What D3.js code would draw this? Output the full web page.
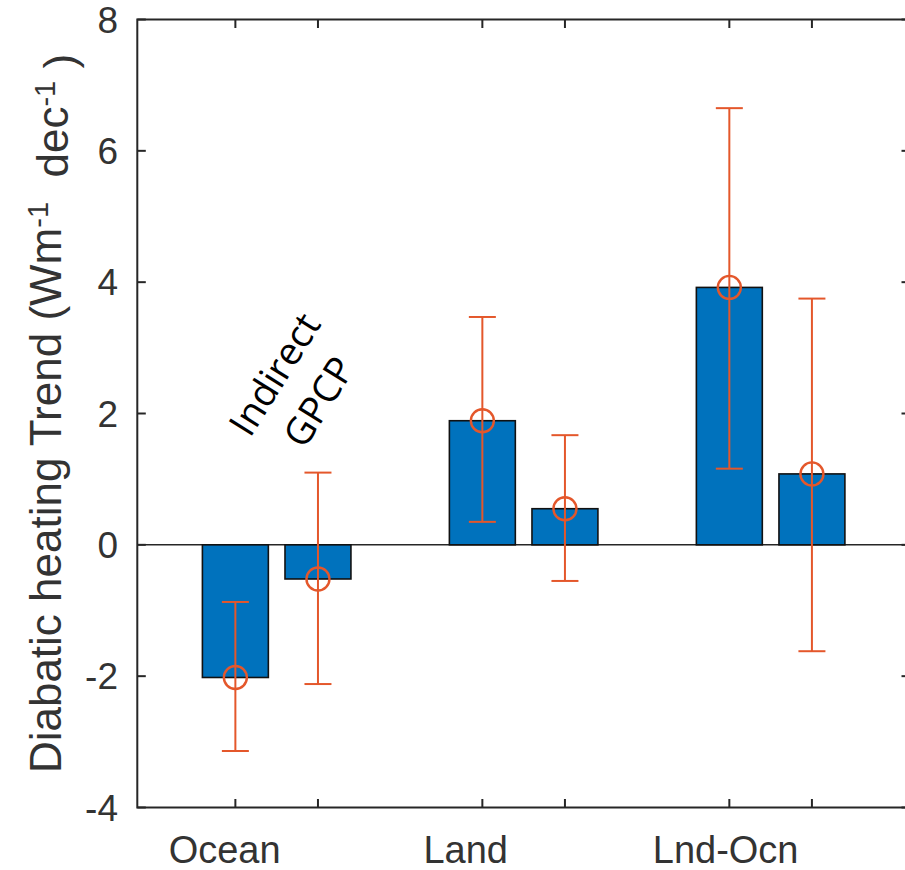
<!DOCTYPE html>
<html>
<head>
<meta charset="utf-8">
<script src="https://cdn.jsdelivr.net/npm/d3@7"></script>
<style>
  body { margin: 0; background: #fff; }
  svg { display: block; }
</style>
</head>
<body>
<div id="chart"></div>
<script>
// Data
const categories = ["Ocean", "Land", "Lnd-Ocn"];
const indirect = [-2.02, 1.89, 3.92];
const indirectHi = [-0.87, 3.47, 6.65];
const indirectLo = [-3.14, 0.35, 1.16];
const gpcp = [-0.52, 0.55, 1.08];
const gpcpHi = [1.10, 1.67, 3.75];
const gpcpLo = [-2.12, -0.55, -1.62];
const yTicks = [-4, -2, 0, 2, 4, 6, 8];

const W = 905, H = 870;
const axisColor = "#262626";
const textColor = "#333";
const barColor = "#0072BD";
const errColor = "#E4572B";
const font = "'Liberation Sans', Arial, Helvetica, sans-serif";

// bar offset / width in group units
const offset = 0.1672;
const barW = 0.267;

const svg = d3.select("#chart")
  .append("svg")
  .attr("width", W)
  .attr("height", H);

// Scales (x in group units, 1..3)
const xScale = d3.scaleLinear()
  .domain([0.4357, 3.5643])
  .range([137.3, 910]);

const yScale = d3.scaleLinear()
  .domain([-4, 8])
  .range([807.5, 19.5]);

// Build bar records
const bars = [];
categories.forEach((c, i) => {
  bars.push({ x: i + 1 - offset, v: indirect[i], hi: indirectHi[i], lo: indirectLo[i] });
  bars.push({ x: i + 1 + offset, v: gpcp[i], hi: gpcpHi[i], lo: gpcpLo[i] });
});
const tickX = bars.map(d => d.x);

// Baseline at zero
svg.append("line")
  .attr("x1", xScale.range()[0])
  .attr("x2", xScale.range()[1])
  .attr("y1", yScale(0))
  .attr("y2", yScale(0))
  .style("stroke", axisColor)
  .style("stroke-width", 1.5);

// Bars
svg.selectAll("rect.bar")
  .data(bars)
  .enter()
  .append("rect")
  .attr("class", "bar")
  .attr("x", d => xScale(d.x - barW / 2))
  .attr("width", d => xScale(d.x + barW / 2) - xScale(d.x - barW / 2))
  .attr("y", d => yScale(Math.max(0, d.v)))
  .attr("height", d => Math.abs(yScale(d.v) - yScale(0)))
  .style("fill", barColor)
  .style("stroke", "#111")
  .style("stroke-width", 1.6);

// Error bars
const capHalf = 13.5;
const err = svg.append("g")
  .style("stroke", errColor)
  .style("stroke-width", 2)
  .style("fill", "none");

err.selectAll("line.stem")
  .data(bars)
  .enter()
  .append("line")
  .attr("x1", d => xScale(d.x))
  .attr("x2", d => xScale(d.x))
  .attr("y1", d => yScale(d.hi))
  .attr("y2", d => yScale(d.lo));

["hi", "lo"].forEach(k => {
  err.selectAll("line.cap-" + k)
    .data(bars)
    .enter()
    .append("line")
    .attr("x1", d => xScale(d.x) - capHalf)
    .attr("x2", d => xScale(d.x) + capHalf)
    .attr("y1", d => yScale(d[k]))
    .attr("y2", d => yScale(d[k]));
});

err.selectAll("circle")
  .data(bars)
  .enter()
  .append("circle")
  .attr("cx", d => xScale(d.x))
  .attr("cy", d => yScale(d.v))
  .attr("r", 11.5)
  .style("stroke-width", 2.4);

// Axes box
const x0 = xScale.range()[0], x1 = xScale.range()[1];
const y0 = yScale.range()[0], y1 = yScale.range()[1];

svg.append("rect")
  .attr("x", x0)
  .attr("y", y1)
  .attr("width", x1 - x0)
  .attr("height", y0 - y1)
  .style("fill", "none")
  .style("stroke", axisColor)
  .style("stroke-width", 2);

// Ticks, inward on all four sides
const tickLen = 8.5;
const ticks = svg.append("g")
  .style("stroke", axisColor)
  .style("stroke-width", 2);

yTicks.forEach(t => {
  ticks.append("line")
    .attr("x1", x0).attr("x2", x0 + tickLen)
    .attr("y1", yScale(t)).attr("y2", yScale(t));
  ticks.append("line")
    .attr("x1", x1).attr("x2", x1 - tickLen)
    .attr("y1", yScale(t)).attr("y2", yScale(t));
});

tickX.forEach(t => {
  ticks.append("line")
    .attr("x1", xScale(t)).attr("x2", xScale(t))
    .attr("y1", y0).attr("y2", y0 - tickLen);
  ticks.append("line")
    .attr("x1", xScale(t)).attr("x2", xScale(t))
    .attr("y1", y1).attr("y2", y1 + tickLen);
});

// Y tick labels
svg.selectAll("text.ytick")
  .data(yTicks)
  .enter()
  .append("text")
  .attr("class", "ytick")
  .attr("x", 118)
  .attr("y", d => yScale(d))
  .attr("dy", "0.36em")
  .attr("text-anchor", "end")
  .style("font-family", font)
  .style("font-size", "37px")
  .style("fill", textColor)
  .text(d => d);

// X category labels (offset relative to group centre, as in the figure)
const labelDx = [-52, -58, -45];
svg.selectAll("text.xtick")
  .data(categories)
  .enter()
  .append("text")
  .attr("class", "xtick")
  .attr("x", (d, i) => xScale(i + 1) + labelDx[i])
  .attr("y", 863)
  .attr("text-anchor", "middle")
  .style("font-family", font)
  .style("font-size", "38px")
  .style("fill", textColor)
  .text(d => d);

// Y axis label
const ylab = svg.append("text")
  .attr("transform", `translate(61,${(y0 + y1) / 2}) rotate(-90)`)
  .attr("text-anchor", "middle")
  .style("font-family", font)
  .style("font-size", "44px")
  .style("fill", textColor);

ylab.append("tspan").text("Diabatic heating Trend (Wm");
ylab.append("tspan").attr("dy", "-0.45em").style("font-size", "29px").text("-1");
ylab.append("tspan").attr("dy", "0.45em").text("\u00a0 dec");
ylab.append("tspan").attr("dy", "-0.45em").style("font-size", "29px").text("-1");
ylab.append("tspan").attr("dy", "0.45em").text(" )");

// Rotated annotation
const note = svg.append("g")
  .attr("transform", `translate(${xScale(1.08)},${yScale(2.39)}) rotate(-58)`);

["Indirect", "GPCP"].forEach((s, i) => {
  note.append("text")
    .attr("x", 0)
    .attr("y", (i - 0.5) * 52)
    .attr("dy", "0.36em")
    .attr("text-anchor", "middle")
    .style("font-family", "'Open Sans', sans-serif")
    .style("font-size", "38px")
    .style("fill", "#000")
    .text(s);
});
</script>
</body>
</html>
